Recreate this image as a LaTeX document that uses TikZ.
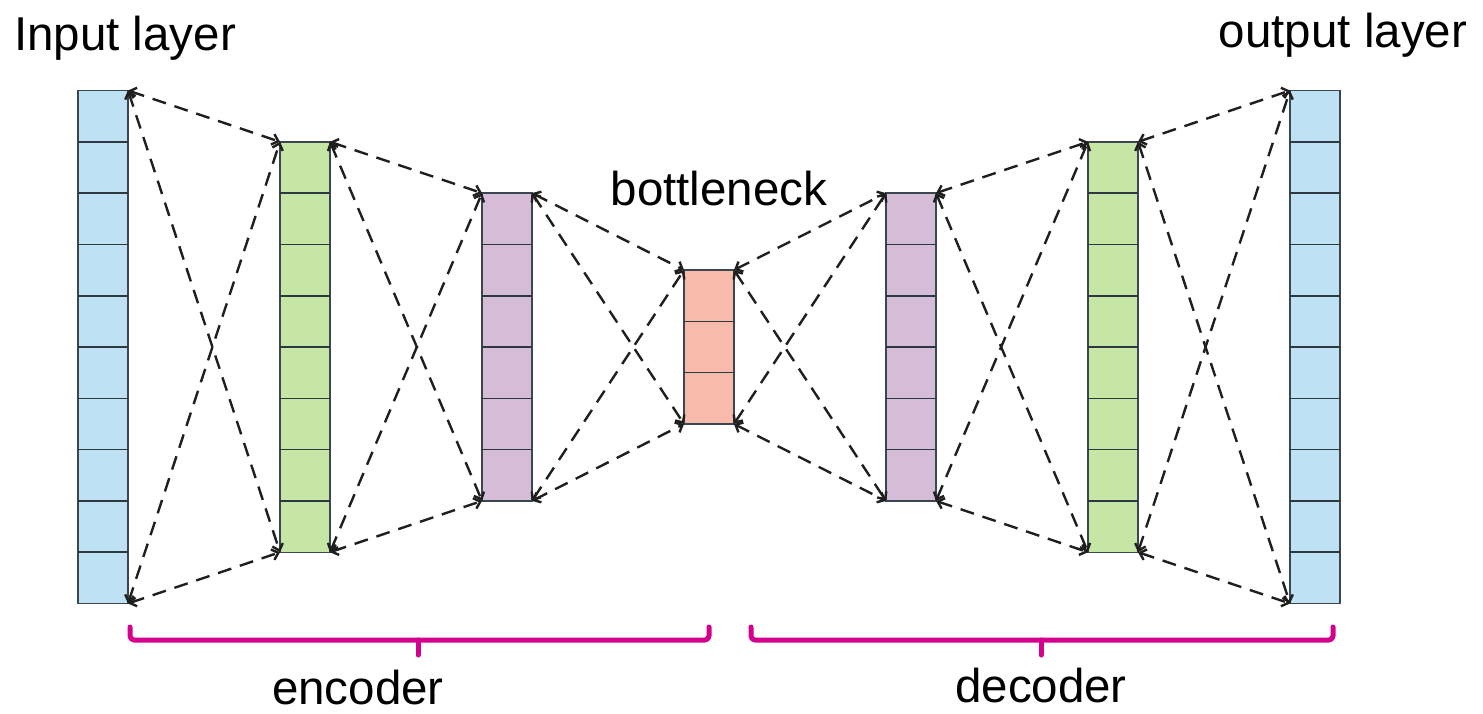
\documentclass[tikz,border=0pt]{standalone}
\usepackage{fontspec}
\setmainfont{Liberation Sans}
\usetikzlibrary{arrows.meta}
\definecolor{lblue}{HTML}{BEE1F4}
\definecolor{lgreen}{HTML}{C6E6A6}
\definecolor{lpurple}{HTML}{D6BDD7}
\definecolor{lred}{HTML}{F7BAAB}
\definecolor{bracecol}{HTML}{D4008E}
\definecolor{cellline}{HTML}{3A4650}
\tikzset{
  layerbox/.style={draw=cellline, line width=1.4pt, minimum width=50pt, inner sep=0pt, outer sep=0pt},
  cellsep/.style={draw=cellline!80!black, line width=1.6pt},
  conn/.style={draw=black!88, line width=2.4pt, dash pattern=on 14pt off 9pt,
    {Straight Barb[length=6pt,width=11pt]}-{Straight Barb[length=6pt,width=11pt]}},
  bracestyle/.style={draw=bracecol, line width=5pt, line cap=round, line join=round, rounded corners=4pt},
  lbl/.style={font=\fontsize{47.5}{50}\selectfont, inner sep=0pt, anchor=base},
}
\newcommand\drawlayer[4]{%
  \pgfmathsetmacro\layerh{#3*51.3}%
  \node[layerbox, fill=#4, minimum height=\layerh pt] (#1) at (#2,347) {};
  \foreach \k in {2,...,#3}{%
    \draw[cellsep] (#1.north west) ++(0,{(\k-1)*51.3}) -- ++(50,0);
  }%
}
\newcommand\linklayers[2]{%
  \draw[conn] (#1.north east) -- (#2.north west);
  \draw[conn] (#1.north east) -- (#2.south west);
  \draw[conn] (#1.south east) -- (#2.north west);
  \draw[conn] (#1.south east) -- (#2.south west);
}
\begin{document}
\begin{tikzpicture}[x=1pt,y=-1pt]
\useasboundingbox[fill=white] (0,0) rectangle (1483,713);
\drawlayer{L1}{103}{10}{lblue}
\drawlayer{L2}{305}{8}{lgreen}
\drawlayer{L3}{507}{6}{lpurple}
\drawlayer{L4}{709}{3}{lred}
\drawlayer{L5}{911}{6}{lpurple}
\drawlayer{L6}{1113}{8}{lgreen}
\drawlayer{L7}{1315}{10}{lblue}
\linklayers{L1}{L2}
\linklayers{L2}{L3}
\linklayers{L3}{L4}
\linklayers{L4}{L5}
\linklayers{L5}{L6}
\linklayers{L6}{L7}
\node[lbl] (tin) at (125,50) {Input layer};
\node[lbl] (tout) at (1343,47) {output layer};
\node[lbl, fill=white, inner sep=4pt] (tbn) at (719,205) {bottleneck};
\node[lbl] (tenc) at (358,704) {encoder};
\node[lbl] (tdec) at (1041,702) {decoder};
\draw[bracestyle] (130,627) -- (130,640) -- (709,640) -- (709,627);
\draw[bracestyle] (418,640) -- (418,655);
\draw[bracestyle] (751,627) -- (751,640) -- (1333,640) -- (1333,627);
\draw[bracestyle] (1041,640) -- (1041,655);
\end{tikzpicture}
\end{document}
